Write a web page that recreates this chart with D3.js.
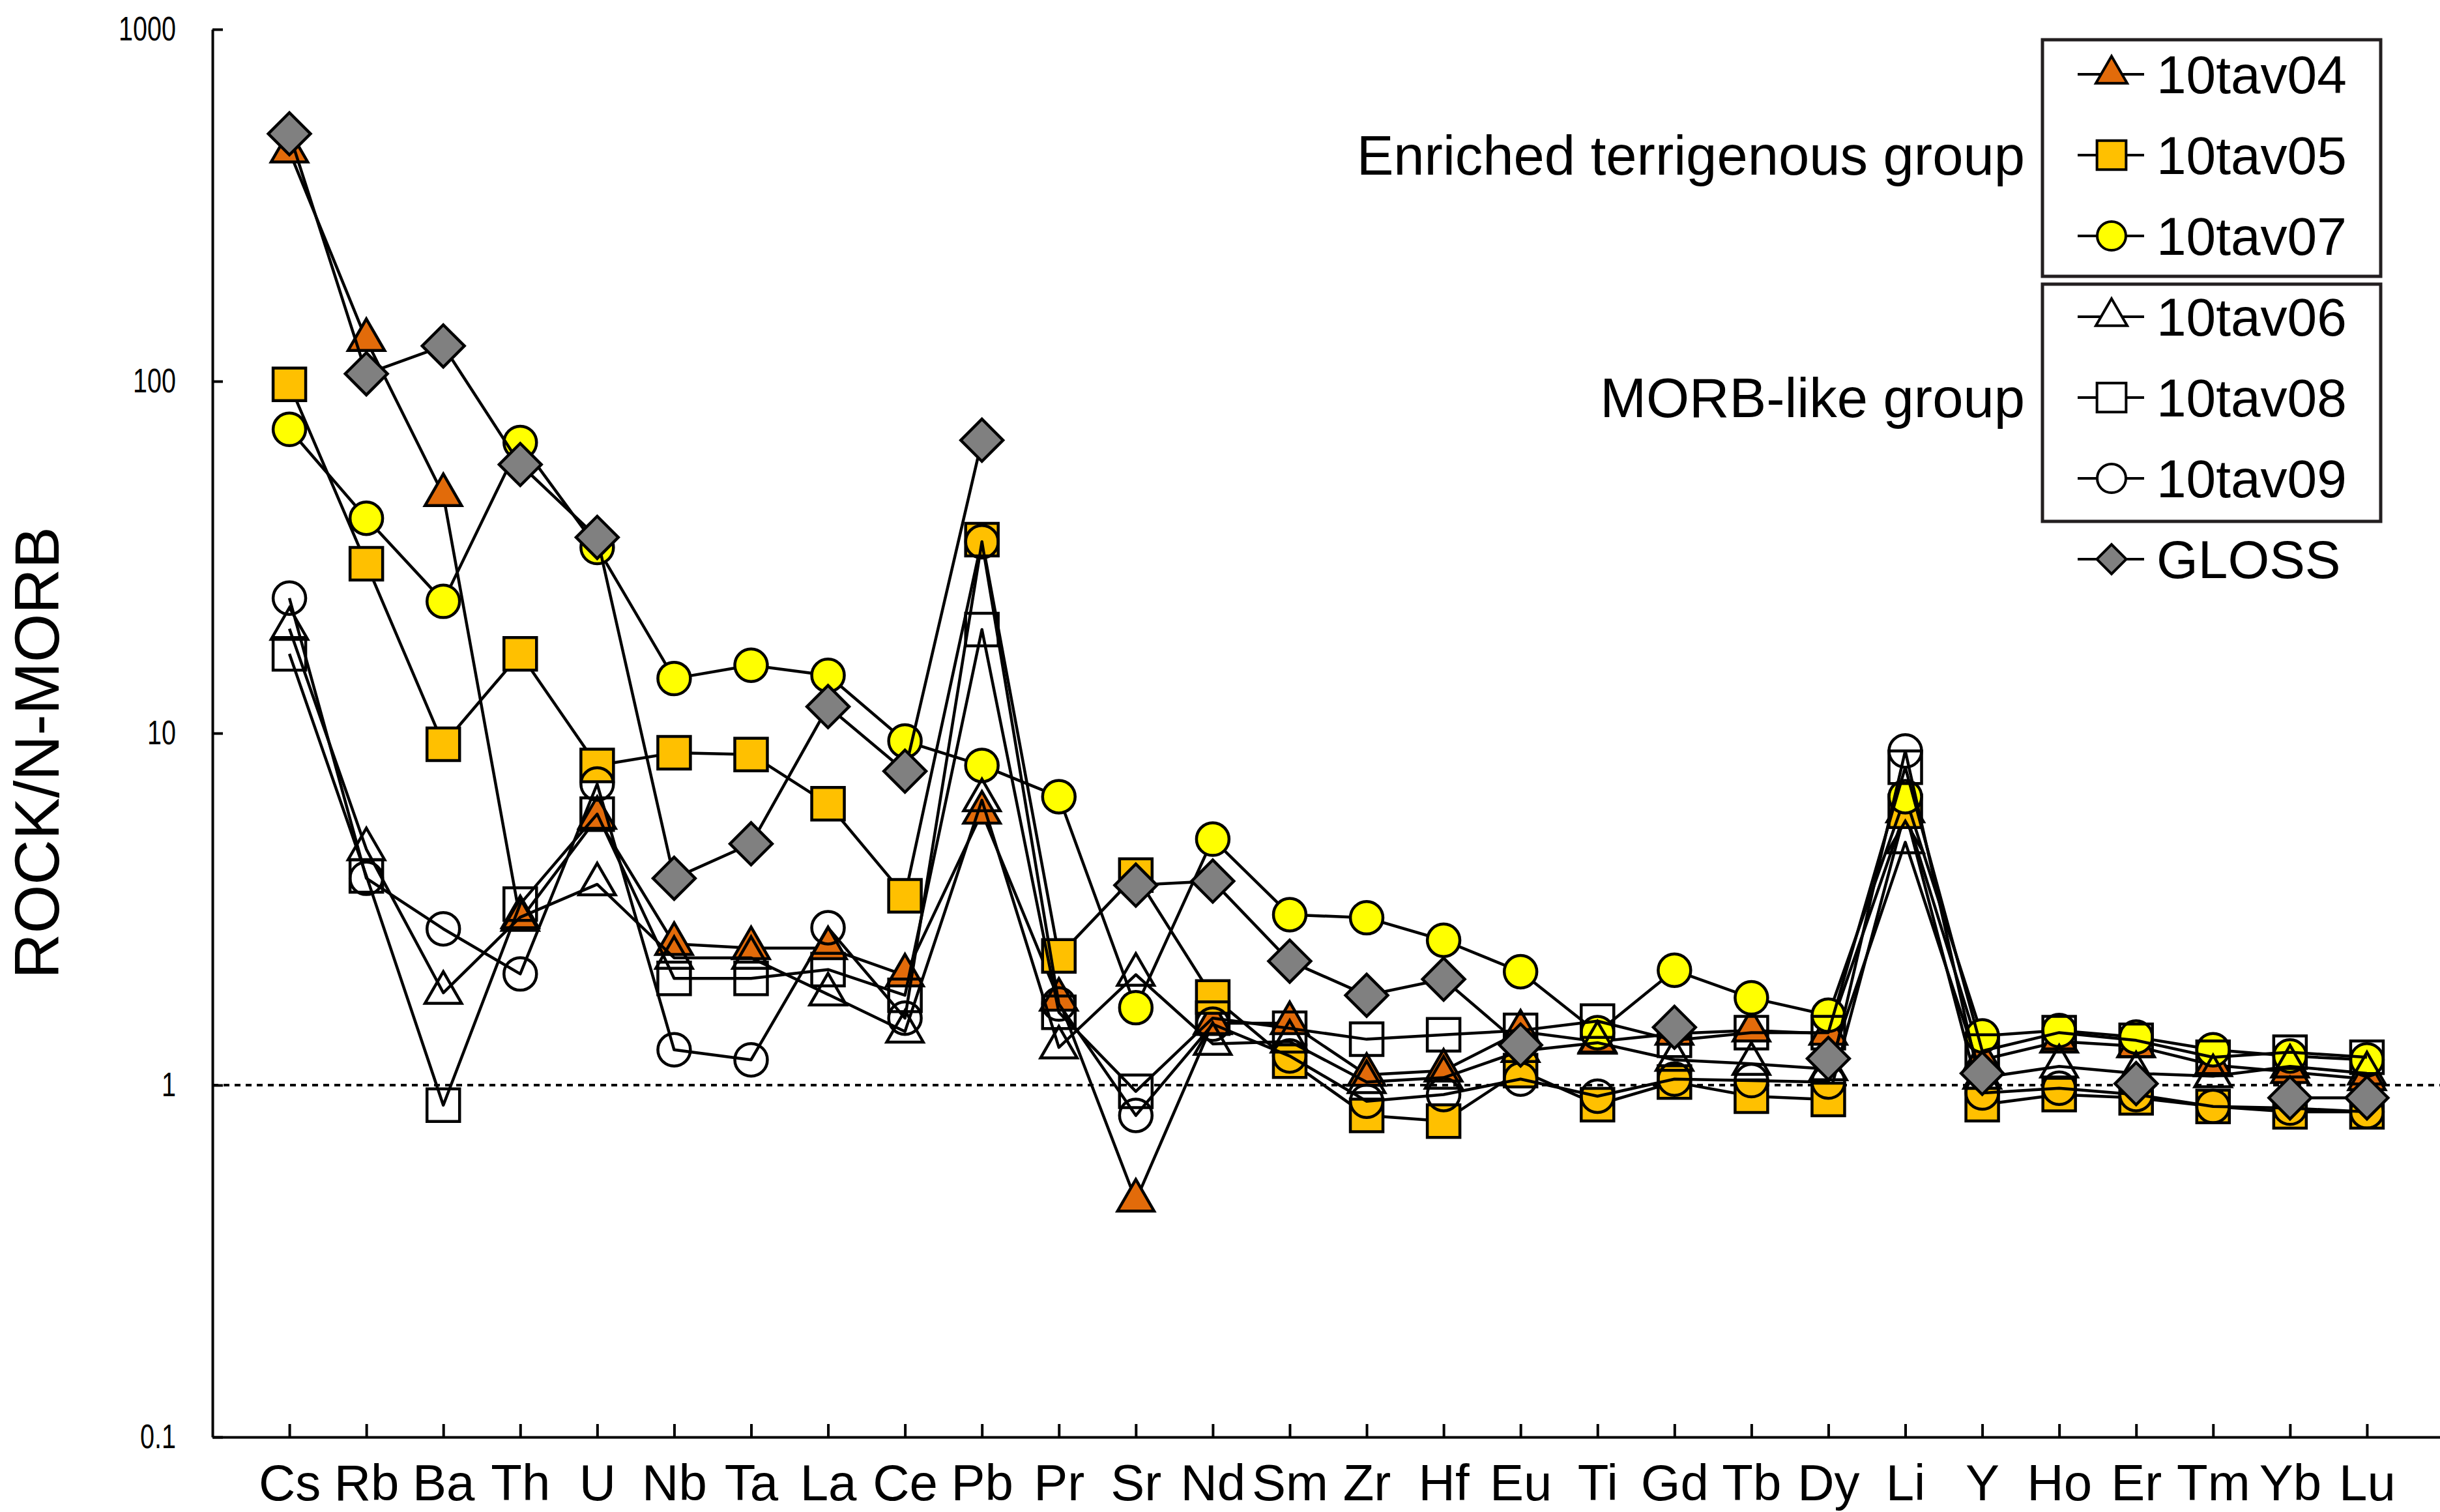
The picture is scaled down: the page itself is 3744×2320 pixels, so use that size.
<!DOCTYPE html>
<html>
<head>
<meta charset="utf-8">
<script src="https://cdn.jsdelivr.net/npm/d3@7"></script>
<style>
  html, body { margin: 0; padding: 0; background: #fff; }
  svg { display: block; }
  text { font-family: "Liberation Sans", Arial, Helvetica, sans-serif; fill: #000; }
</style>
</head>
<body>
<svg id="chart"></svg>
<script>
// --- Data (ROCK / N-MORB) ---
const elements = ["Cs","Rb","Ba","Th","U","Nb","Ta","La","Ce","Pb","Pr","Sr","Nd","Sm",
                  "Zr","Hf","Eu","Ti","Gd","Tb","Dy","Li","Y","Ho","Er","Tm","Yb","Lu"];

const tav04 = [450, 131, 47.5, 2.95, 5.75, 2.52, 2.45, 2.45, 2.05, 5.95, 1.75, 0.47, 1.50, 1.50,
               1.07, 1.10, 1.42, 1.33, 1.40, 1.43, 1.40, 6.0, 1.18, 1.33, 1.29, 1.14, 1.09, 1.04];
const tav05 = [98, 30.3, 9.3, 16.8, 8.1, 8.8, 8.7, 6.3, 3.45, 35.5, 2.33, 3.95, 1.78, 1.17,
               0.82, 0.79, 1.10, 0.88, 1.02, 0.93, 0.91, 6.0, 0.88, 0.94, 0.92, 0.87, 0.84, 0.84];
const tav07 = [73, 40.8, 23.7, 67, 33.7, 14.3, 15.6, 14.6, 9.5, 8.1, 6.6, 1.66, 5.0, 3.05,
               2.99, 2.58, 2.10, 1.41, 2.12, 1.77, 1.58, 6.6, 1.38, 1.43, 1.37, 1.26, 1.21, 1.18];
const tav06 = [19.8, 4.68, 1.83, 3.0, 3.72, 2.3, 2.3, 1.81, 1.42, 6.45, 1.28, 2.06, 1.31, 1.33,
               1.02, 1.05, 1.25, 1.32, 1.18, 1.15, 1.11, 4.9, 1.05, 1.13, 1.08, 1.06, 1.13, 1.08];
const tav08 = [16.8, 3.93, 0.877, 3.27, 5.89, 2.01, 2.01, 2.13, 1.80, 19.7, 1.61, 0.96, 1.55, 1.45,
               1.35, 1.39, 1.43, 1.52, 1.34, 1.41, 1.41, 8.0, 1.25, 1.41, 1.34, 1.20, 1.24, 1.20];
const tav09 = [24.2, 3.87, 2.78, 2.07, 7.17, 1.26, 1.18, 2.8, 1.55, 35, 1.70, 0.82, 1.49, 1.21,
               0.90, 0.94, 1.04, 0.93, 1.04, 1.03, 1.02, 8.9, 0.95, 0.98, 0.94, 0.87, 0.86, 0.84];
// GLOSS has no values for Pr, Ti, Tb, Li, Ho, Tm (line is broken there)
const gloss = [505, 105, 126, 58, 36, 3.87, 4.85, 11.9, 7.8, 68, null, 3.7, 3.8, 2.25,
               1.80, 2.0, 1.30, null, 1.46, null, 1.19, null, 1.08, null, 1.01, null, 0.92, 0.92];

const yTicks = [0.1, 1, 10, 100, 1000];
const groupLabels = ["Enriched terrigenous group", "MORB-like group"];

// series in drawing / legend order
const SERIES = [
    { name: "10tav04", values: tav04, shape: "triangle", fill: "#E26B0A" },
    { name: "10tav05", values: tav05, shape: "square",   fill: "#FFC000" },
    { name: "10tav07", values: tav07, shape: "circle",   fill: "#FFFF00" },
    { name: "10tav06", values: tav06, shape: "triangle", fill: "none" },
    { name: "10tav08", values: tav08, shape: "square",   fill: "none" },
    { name: "10tav09", values: tav09, shape: "circle",   fill: "none" },
    { name: "GLOSS",   values: gloss, shape: "diamond",  fill: "#808080" }
];

const W = 3744, H = 2320;
const M = { left: 326, right: 3750, top: 45, bottom: 2205 };

const svg = d3.select("#chart").attr("width", W).attr("height", H);
svg.append("rect").attr("width", W).attr("height", H).attr("fill", "#fff");

const x = d3.scalePoint().domain(elements).range([M.left, M.right]).padding(1);
const y = d3.scaleLog().domain([0.1, 1000]).range([M.bottom, M.top]);

// marker shapes (area based sizes)
const plotSizes   = { triangle: 1360, square: 2500, circle: 1960, diamond: 2100 };
const legendSizes = { triangle: 1000, square: 2000, circle: 1520, diamond: 1020 };
const shapeType = { triangle: d3.symbolTriangle, square: d3.symbolSquare,
                    circle: d3.symbolCircle, diamond: d3.symbolSquare };

function markerPath(shape, sizes) {
    return d3.symbol().type(shapeType[shape]).size(sizes[shape])();
}
function markerTransform(shape, px, py) {
    return shape === "diamond" ? `translate(${px},${py}) rotate(45)` : `translate(${px},${py})`;
}

// --- reference line at 1 ---
svg.append("line")
    .attr("x1", M.left).attr("x2", W)
    .attr("y1", y(1)).attr("y2", y(1))
    .attr("stroke", "#000").attr("stroke-width", 4)
    .attr("stroke-dasharray", "9,8");

// --- Axes ---
const yAxis = d3.axisLeft(y)
    .tickValues(yTicks)
    .tickFormat(d => String(d))
    .tickSize(-16).tickSizeOuter(0).tickPadding(56);

const gy = svg.append("g").attr("transform", `translate(${M.left},0)`).call(yAxis);
gy.select(".domain").attr("stroke-width", 4);
gy.selectAll(".tick line").attr("stroke-width", 4);
// tick labels are a narrow face in the original: squeeze horizontally
const squeeze = 0.76;
gy.selectAll(".tick text")
    .attr("font-size", 52)
    .attr("x", -56 / squeeze)
    .attr("transform", `scale(${squeeze},1)`)
    .style("font-family", "'Liberation Sans', Arial, sans-serif");

const xAxis = d3.axisBottom(x).tickSize(-20).tickSizeOuter(0).tickPadding(42);
const gx = svg.append("g").attr("transform", `translate(0,${M.bottom})`).call(xAxis);
gx.select(".domain").attr("stroke-width", 4);
gx.selectAll(".tick line").attr("stroke-width", 4);
gx.selectAll(".tick text").attr("font-size", 78)
    .style("font-family", "'Liberation Sans', Arial, sans-serif");

// y title
svg.append("text")
    .attr("transform", `translate(90,${(M.top + M.bottom) / 2 + 30}) rotate(-90)`)
    .attr("text-anchor", "middle")
    .attr("font-size", 96)
    .text("ROCK/N-MORB");

// --- Series ---
const line = d3.line()
    .defined(d => d.v != null)
    .x(d => x(d.el))
    .y(d => y(d.v));

SERIES.forEach(s => {
    const rows = elements.map((el, i) => ({ el, v: s.values[i] }));
    const g = svg.append("g").attr("class", "series");
    g.append("path")
        .attr("d", line(rows))
        .attr("fill", "none")
        .attr("stroke", "#000")
        .attr("stroke-width", 4.5)
        .attr("stroke-linejoin", "round");
    g.selectAll("path.mark")
        .data(rows.filter(d => d.v != null))
        .join("path")
        .attr("class", "mark")
        .attr("d", markerPath(s.shape, plotSizes))
        .attr("transform", d => markerTransform(s.shape, x(d.el), y(d.v)))
        .attr("fill", s.fill)
        .attr("stroke", "#000")
        .attr("stroke-width", 4.5);
});

// --- Legend ---
const legRowY = i => 114 + 124 * i;
const leg = svg.append("g").attr("class", "legend");

// group boxes with their labels
[[0, 2], [3, 5]].forEach(([a, b], gi) => {
    leg.append("rect")
        .attr("x", 3134).attr("width", 519)
        .attr("y", gi === 0 ? 61 : 436)
        .attr("height", gi === 0 ? 363 : 364)
        .attr("fill", "none")
        .attr("stroke", "#231f20")
        .attr("stroke-width", 5);
    leg.append("text")
        .attr("x", 3107)
        .attr("y", (legRowY(a) + legRowY(b)) / 2)
        .attr("dy", "0.35em")
        .attr("text-anchor", "end")
        .attr("font-size", 85)
        .text(groupLabels[gi]);
});

SERIES.forEach((s, i) => {
    const ry = legRowY(i);
    leg.append("line")
        .attr("x1", 3188).attr("x2", 3290)
        .attr("y1", ry).attr("y2", ry)
        .attr("stroke", "#000").attr("stroke-width", 4);
    leg.append("path")
        .attr("d", markerPath(s.shape, legendSizes))
        .attr("transform", markerTransform(s.shape, 3240, ry))
        .attr("fill", s.fill === "none" ? "#fff" : s.fill)
        .attr("stroke", "#000")
        .attr("stroke-width", 4);
    leg.append("text")
        .attr("x", 3309).attr("y", ry)
        .attr("dy", "0.35em")
        .attr("font-size", 82)
        .text(s.name);
});
</script>
</body>
</html>
